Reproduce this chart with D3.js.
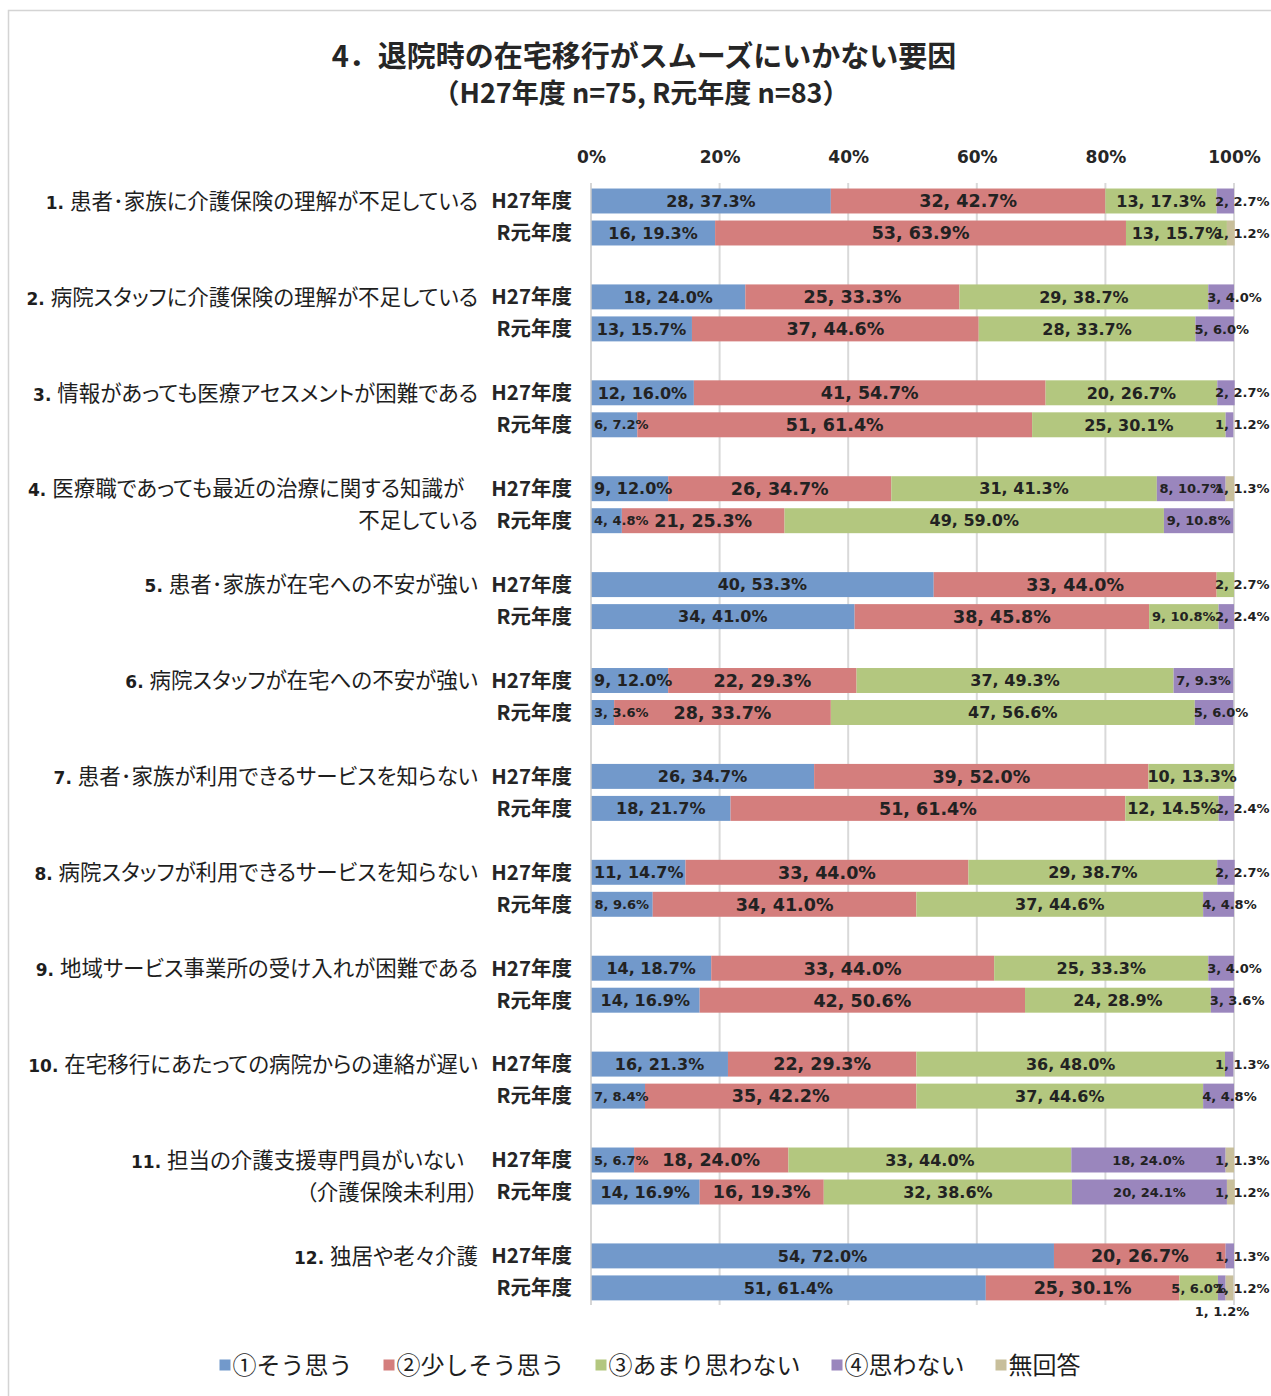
<!DOCTYPE html>
<html lang="ja">
<head>
<meta charset="utf-8">
<script src="https://cdn.jsdelivr.net/npm/d3@7"></script>
<style>
  html, body { margin: 0; padding: 0; background: #fff; }
  svg { display: block; }
  .cat { font-feature-settings: "palt" 1; }
</style>
</head>
<body>
<svg id="chart" width="1271" height="1396"></svg>
<script>
// ---- data ----
const categories = [
  "1. 患者･家族に介護保険の理解が不足している",
  "2. 病院スタッフに介護保険の理解が不足している",
  "3. 情報があっても医療アセスメントが困難である",
  "4. 医療職であっても最近の治療に関する知識が\n不足している",
  "5. 患者･家族が在宅への不安が強い",
  "6. 病院スタッフが在宅への不安が強い",
  "7. 患者･家族が利用できるサービスを知らない",
  "8. 病院スタッフが利用できるサービスを知らない",
  "9. 地域サービス事業所の受け入れが困難である",
  "10. 在宅移行にあたっての病院からの連絡が遅い",
  "11. 担当の介護支援専門員がいない\n（介護保険未利用）",
  "12. 独居や老々介護"
];
const years = ["H27年度", "R元年度"];
const seriesNames = ["①そう思う", "②少しそう思う", "③あまり思わない", "④思わない", "無回答"];
const seriesColors = ["#7299cb", "#d47e7d", "#b3c77f", "#9a86bd", "#c8bf9b"];
const tickValues = [0, 20, 40, 60, 80, 100];

// counts and percentages, one entry per bar (category × year, H27 then R元)
const countAgree = [28,16, 18,13, 12,6, 9,4, 40,34, 9,3, 26,18, 11,8, 14,14, 16,7, 5,14, 54,51];
const pctAgree   = [37.3,19.3, 24.0,15.7, 16.0,7.2, 12.0,4.8, 53.3,41.0, 12.0,3.6, 34.7,21.7, 14.7,9.6, 18.7,16.9, 21.3,8.4, 6.7,16.9, 72.0,61.4];

const countSomewhat = [32,53, 25,37, 41,51, 26,21, 33,38, 22,28, 39,51, 33,34, 33,42, 22,35, 18,16, 20,25];
const pctSomewhat   = [42.7,63.9, 33.3,44.6, 54.7,61.4, 34.7,25.3, 44.0,45.8, 29.3,33.7, 52.0,61.4, 44.0,41.0, 44.0,50.6, 29.3,42.2, 24.0,19.3, 26.7,30.1];

const countNotMuch = [13,13, 29,28, 20,25, 31,49, 2,9, 37,47, 10,12, 29,37, 25,24, 36,37, 33,32, 0,5];
const pctNotMuch   = [17.3,15.7, 38.7,33.7, 26.7,30.1, 41.3,59.0, 2.7,10.8, 49.3,56.6, 13.3,14.5, 38.7,44.6, 33.3,28.9, 48.0,44.6, 44.0,38.6, 0,6.0];

const countDisagree = [2,0, 3,5, 2,1, 8,9, 0,2, 7,5, 0,2, 2,4, 3,3, 1,4, 18,20, 1,1];
const pctDisagree   = [2.7,0, 4.0,6.0, 2.7,1.2, 10.7,10.8, 0,2.4, 9.3,6.0, 0,2.4, 2.7,4.8, 4.0,3.6, 1.3,4.8, 24.0,24.1, 1.3,1.2];

const countNoAnswer = [0,1, 0,0, 0,0, 1,0, 0,0, 0,0, 0,0, 0,0, 0,0, 0,0, 1,1, 0,1];
const pctNoAnswer   = [0,1.2, 0,0, 0,0, 1.3,0, 0,0, 0,0, 0,0, 0,0, 0,0, 0,0, 1.3,1.2, 0,1.2];

// ---- table for the stack layout ----
const counts = [countAgree, countSomewhat, countNotMuch, countDisagree, countNoAnswer];
const pcts = [pctAgree, pctSomewhat, pctNotMuch, pctDisagree, pctNoAnswer];
const keys = seriesNames;
const rows = [];
categories.forEach((c, gi) => {
  years.forEach((yr, yi) => {
    const idx = gi * 2 + yi;
    const r = { idx, cat: c, year: yr };
    keys.forEach((k, si) => { r[k] = pcts[si][idx]; });
    rows.push(r);
  });
});
const stacked = d3.stack().keys(keys)(rows);

// ---- layout ----
const svg = d3.select("#chart");
const FONT_JP = "'Noto Sans CJK JP', 'Noto Sans', sans-serif";
const FONT_NUM = "'DejaVu Sans', 'Noto Sans CJK JP', sans-serif";

// chart area frame
svg.append("rect")
  .attr("x", 8.5).attr("y", 10.5)
  .attr("width", 1300).attr("height", 1400)
  .attr("fill", "#fff").attr("stroke", "#d4d4d4").attr("stroke-width", 1.5);

// title
const title = svg.append("g").attr("font-family", FONT_JP).attr("font-weight", 700)
  .attr("fill", "#262626").attr("text-anchor", "middle");
title.append("text").attr("x", 644).attr("y", 67).attr("font-size", 29)
  .text("4．退院時の在宅移行がスムーズにいかない要因");
title.append("text").attr("x", 641).attr("y", 103).attr("font-size", 27)
  .text("（H27年度 n=75, R元年度 n=83）");

const x = d3.scaleLinear().domain([0, 100]).range([591, 1234]);
const groupStep = 95.9;
const yGroup = d3.scaleBand().domain(categories)
  .range([185, 185 + groupStep * categories.length]).padding(0);
const yYear = d3.scaleBand().domain(years)
  .range([0, 64]).paddingInner(0.22).paddingOuter(0.11);
const barY = r => yGroup(r.cat) + yYear(r.year);
const bh = yYear.bandwidth();

const plotTop = 183, plotBottom = 1305;

// gridlines
svg.append("g").selectAll("line")
  .data(tickValues.filter(v => v > 0))
  .join("line")
  .attr("x1", d => x(d)).attr("x2", d => x(d))
  .attr("y1", plotTop).attr("y2", plotBottom)
  .attr("stroke", "#d9d9d9").attr("stroke-width", 2);

// top percentage axis
const axis = svg.append("g")
  .attr("transform", `translate(0,${170})`)
  .call(d3.axisTop(x).tickValues(tickValues).tickFormat(d => d + "%").tickSize(0).tickPadding(7));
axis.select(".domain").remove();
axis.selectAll("text")
  .attr("font-family", FONT_NUM).attr("font-weight", 700)
  .attr("font-size", 17).attr("fill", "#262626");

// bars
const layers = svg.append("g").selectAll("g")
  .data(stacked)
  .join("g")
  .attr("fill", (d, i) => seriesColors[i]);
layers.selectAll("rect")
  .data(d => d.filter(s => s[1] - s[0] > 0))
  .join("rect")
  .attr("x", d => x(d[0]))
  .attr("width", d => x(d[1]) - x(d[0]))
  .attr("y", d => barY(d.data))
  .attr("height", bh);

// category axis line
svg.append("line")
  .attr("x1", x(0)).attr("x2", x(0))
  .attr("y1", plotTop).attr("y2", plotBottom)
  .attr("stroke", "#c8c8c8").attr("stroke-width", 1.5);

// year labels
svg.append("g").selectAll("text")
  .data(rows)
  .join("text")
  .attr("x", 572)
  .attr("y", d => barY(d) + bh / 2)
  .attr("dy", "0.36em")
  .attr("text-anchor", "end")
  .attr("font-family", FONT_JP).attr("font-weight", 700)
  .attr("font-size", 20.5).attr("fill", "#262626")
  .text(d => d.year);

// category labels: number part in bold, wrapped ones end a little earlier on line 1
const catG = svg.append("g").attr("class", "cat")
  .attr("font-family", FONT_JP).attr("font-size", 21.5)
  .attr("fill", "#1e1e1e").attr("text-anchor", "end");
categories.forEach(c => {
  const lines = c.split("\n");
  lines.forEach((ln, li) => {
    const yr = years[li];
    const t = catG.append("text")
      .attr("x", lines.length > 1 && li === 0 ? 464 : 478)
      .attr("y", yGroup(c) + yYear(yr) + bh / 2)
      .attr("dy", "0.36em");
    const m = ln.match(/^(\d+\.)\s(.*)$/);
    if (m) {
      t.append("tspan").attr("font-family", FONT_NUM).attr("font-weight", 700)
        .attr("font-size", 17).text(m[1] + "\u00a0");
      t.append("tspan").text(m[2]);
    } else {
      t.text(ln);
    }
  });
});

// data labels "count, pct%"
const labelSize = (si, v) => {
  if (si === 1) return 17.5;
  if (si === 0) return v < 10 ? 13 : 16;
  if (si === 2) return v < 11 ? 13 : 16;
  return 13;
};
const labG = svg.append("g")
  .attr("font-family", FONT_NUM).attr("font-weight", 700).attr("fill", "#222");
rows.forEach((r, ri) => {
  const segs = stacked.map((layer, si) => ({
    si, v: pcts[si][ri], n: counts[si][ri],
    x0: x(layer[ri][0]), x1: x(layer[ri][1])
  })).filter(s => s.v > 0);
  const yc = barY(r) + bh / 2;
  let tails = 0;
  segs.forEach((s, k) => {
    const t = labG.append("text")
      .attr("font-size", labelSize(s.si, s.v))
      .attr("dy", "0.36em")
      .text(`${s.n}, ${s.v.toFixed(1)}%`);
    const w = t.node().getComputedTextLength();
    const segW = s.x1 - s.x0;
    const isLast = k === segs.length - 1;
    const tail = w > segW && (isLast || s.x0 > x(100) - 20);
    if (tail) {
      if (tails === 0) {
        t.attr("text-anchor", "start")
          .attr("x", Math.min(s.x0, x(100) - 18) - 1)
          .attr("y", yc);
      } else {
        t.attr("text-anchor", "middle")
          .attr("x", x(100) - 12)
          .attr("y", barY(r) + bh + 11);
      }
      tails++;
    } else {
      let cx = (s.x0 + s.x1) / 2;
      if (cx - w / 2 < x(0) + 3) cx = x(0) + 3 + w / 2;
      t.attr("text-anchor", "middle").attr("x", cx).attr("y", yc);
    }
  });
});

// legend
const legend = svg.append("g")
  .attr("font-family", FONT_JP).attr("font-size", 24).attr("fill", "#1e1e1e");
const items = seriesNames.map((name, i) => {
  const g = legend.append("g");
  g.append("rect").attr("width", 11).attr("height", 11).attr("y", -5.5)
    .attr("fill", seriesColors[i]);
  const t = g.append("text").attr("x", 13).attr("dy", "0.36em").text(name);
  return { g, w: 13 + t.node().getComputedTextLength() };
});
const gap = 31;
const total = d3.sum(items, d => d.w) + gap * (items.length - 1);
let lx = 650 - total / 2;
items.forEach(it => {
  it.g.attr("transform", `translate(${lx},1365)`);
  lx += it.w + gap;
});
</script>
</body>
</html>
